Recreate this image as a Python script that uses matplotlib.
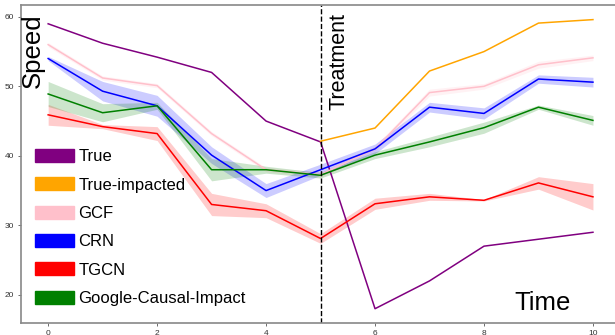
import matplotlib
matplotlib.use('Agg')
import matplotlib.pyplot as plt
import matplotlib.patches as mpatches
import numpy as np

steps = list(range(0, 11))
treat_step = 5

true_vals = [59, 56.2, 54.2, 52, 45, 42, 18, 22, 27, 28, 29]
impacted_steps = [5, 6, 7, 8, 9, 10]
impacted_vals = [42.1, 44, 52.2, 55, 59.1, 59.6]

gcf_vals = [56, 51.2, 50.1, 43.2, 38, 37.3, 41, 49.1, 50, 53.1, 54.1]
gcf_err = [0.3, 0.3, 0.3, 0.3, 0.3, 0.4, 0.4, 0.5, 0.4, 0.5, 0.4]
crn_vals = [54, 49.3, 47.2, 40.1, 35, 38, 41, 47, 46.1, 51.05, 50.6]
crn_err = [0.3, 1.4, 1.5, 1.2, 1.0, 0.8, 0.7, 0.7, 0.8, 0.6, 0.7]
tgcn_vals = [45.9, 44.2, 43.2, 33, 32.1, 28.1, 33.1, 34.1, 33.6, 36.1, 34.1]
tgcn_err = [1.5, 0.3, 1.0, 1.6, 1.0, 0.7, 0.8, 0.5, 0.1, 0.9, 1.9]
gci_vals = [48.9, 46.2, 47.2, 38, 38, 37.2, 40.1, 42, 44.05, 47, 45.1]
gci_err = [1.8, 1.3, 0.5, 1.6, 0.5, 0.4, 0.5, 0.7, 0.8, 0.3, 0.7]

labels = ['True', 'True-impacted', 'GCF', 'CRN', 'TGCN', 'Google-Causal-Impact']
colors = ['purple', 'orange', 'pink', 'blue', 'red', 'green']

plt.rcParams['font.family'] = ['Liberation Sans', 'DejaVu Sans']

fig = plt.figure(figsize=(6.15, 3.35), dpi=100)
ax = fig.add_axes([0.034, 0.037, 0.966 * 1.05, 0.948])

ax.plot(steps, true_vals, color='purple', lw=1.1)
ax.plot(impacted_steps, impacted_vals, color='orange', lw=1.1)

for vals, err, c in [(gcf_vals, gcf_err, 'pink'), (crn_vals, crn_err, 'blue'),
                     (tgcn_vals, tgcn_err, 'red'), (gci_vals, gci_err, 'green')]:
    v = np.array(vals)
    e = np.array(err)
    ax.fill_between(steps, v - e, v + e, color=c, alpha=0.2, lw=0)
    ax.plot(steps, v, color=c, lw=1.1)

ax.axvline(treat_step, color='black', ls='--', lw=1)

ax.set_xlim(-0.5, 10.95)
ax.set_ylim(16, 61.7)
ax.set_xticks([0, 2, 4, 6, 8, 10])
ax.set_yticks([20, 30, 40, 50, 60])
ax.tick_params(labelsize=6, length=2, width=0.6, colors='#555555', labelcolor='#333333', pad=3)
for s in ax.spines.values():
    s.set_color('#888888')
    s.set_linewidth(1.2)
ax.spines['right'].set_visible(False)

ax.text(0.0, 0.975, 'Speed', transform=ax.transAxes, rotation=90, fontsize=18.5,
        ha='left', va='top')
ax.text(5.15, 60.6, 'Treatment', rotation=90, fontsize=15.5, ha='left', va='top')
ax.text(9.07, 17.8, 'Time', fontsize=18.5, ha='center', va='baseline')

handles = [mpatches.Patch(color=c, label=l) for c, l in zip(colors, labels)]
ax.legend(handles=handles, loc='lower left', bbox_to_anchor=(-0.004, 0.0), frameon=False,
          fontsize=12, handlelength=2.35, handleheight=0.8, handletextpad=0.25,
          labelspacing=0.79, borderaxespad=0.6)

fig.savefig('out.png', dpi=100)
